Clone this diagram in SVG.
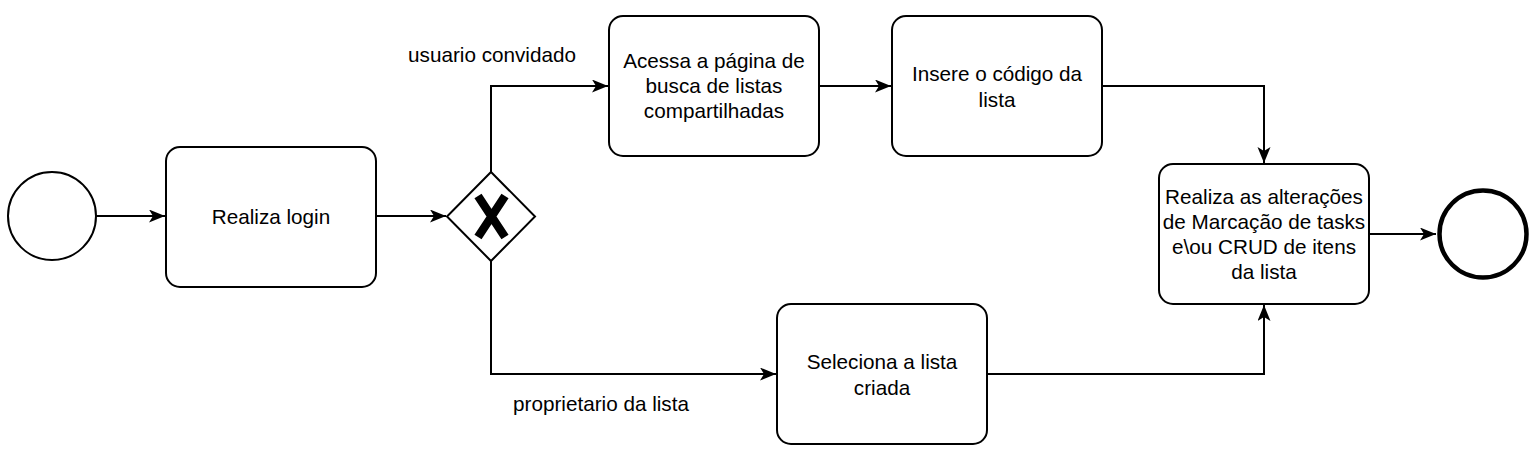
<svg xmlns="http://www.w3.org/2000/svg" width="1535" height="460" viewBox="0 0 1535 460">
<style>
.box{fill:#fff;stroke:#000;stroke-width:2}
.t{font-family:"Liberation Sans",Arial,sans-serif;font-size:20.7px;fill:#000;text-anchor:middle}
.c{fill:none;stroke:#000;stroke-width:2}
</style>
<defs>
<marker id="arr" markerUnits="userSpaceOnUse" markerWidth="18" markerHeight="14" refX="16" refY="6.5" orient="auto">
<path d="M0,0 L16,6.5 L0,13 L4,6.5 Z" fill="#000"/>
</marker>
</defs>
<rect width="1535" height="460" fill="#fff"/>
<g id="connectors">
<path class="c" d="M96,216 H165" marker-end="url(#arr)"/>
<path class="c" d="M376,216 H446" marker-end="url(#arr)"/>
<path class="c" d="M491,172 V86 H608" marker-end="url(#arr)"/>
<path class="c" d="M491,261 V374 H776" marker-end="url(#arr)"/>
<path class="c" d="M819,86 H891" marker-end="url(#arr)"/>
<path class="c" d="M1102,86 H1264 V163" marker-end="url(#arr)"/>
<path class="c" d="M987,374 H1264 V305" marker-end="url(#arr)"/>
<path class="c" d="M1369,234 H1436" marker-end="url(#arr)"/>
<text class="t" x="492" y="62">usuario convidado</text>
<text class="t" x="601" y="411">proprietario da lista</text>
</g>
<g id="start">
<circle cx="52" cy="216" r="44" fill="#fff" stroke="#000" stroke-width="2"/>
</g>
<g id="login">
<rect class="box" x="166" y="147" width="210" height="140" rx="14"/>
<text class="t" x="271" y="224">Realiza login</text>
</g>
<g id="gateway">
<path d="M491,172 L535,216.5 L491,261 L447,216.5 Z" fill="#fff" stroke="#000" stroke-width="2"/>
<path d="M478,196 L505,237 M505,196 L478,237" stroke="#000" stroke-width="8.5" fill="none"/>
</g>
<g id="acessa">
<rect class="box" x="609" y="16" width="210" height="140" rx="14"/>
<text class="t" x="714" y="68">Acessa a página de</text>
<text class="t" x="714" y="93">busca de listas</text>
<text class="t" x="714" y="118">compartilhadas</text>
</g>
<g id="insere">
<rect class="box" x="892" y="16" width="210" height="140" rx="14"/>
<text class="t" x="997" y="80.5">Insere o código da</text>
<text class="t" x="997" y="106.5">lista</text>
</g>
<g id="seleciona">
<rect class="box" x="777" y="304" width="210" height="140" rx="14"/>
<text class="t" x="882" y="368.5">Seleciona a lista</text>
<text class="t" x="882" y="395">criada</text>
</g>
<g id="realiza">
<rect class="box" x="1159" y="164" width="210" height="140" rx="14"/>
<text class="t" x="1264" y="203.5">Realiza as alterações</text>
<text class="t" x="1264" y="228.5">de Marcação de tasks</text>
<text class="t" x="1264" y="253.5">e\ou CRUD de itens</text>
<text class="t" x="1264" y="278.5">da lista</text>
</g>
<g id="end">
<circle cx="1483" cy="234" r="43.5" fill="#fff" stroke="#000" stroke-width="4.5"/>
</g>
</svg>
